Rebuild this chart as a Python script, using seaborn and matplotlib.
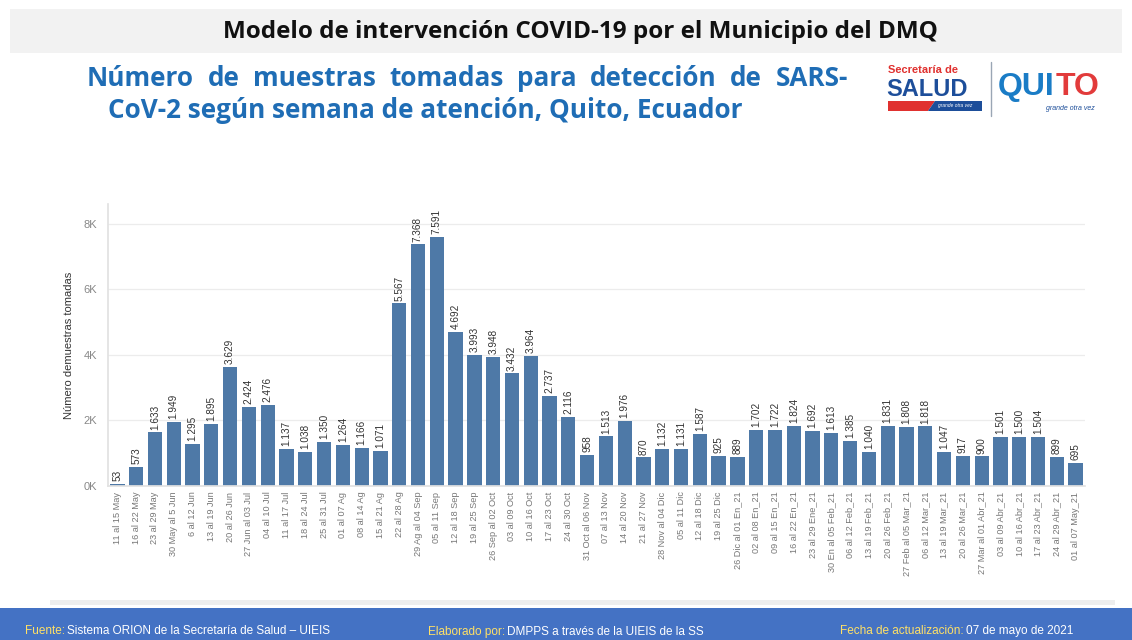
import matplotlib
matplotlib.use("Agg")
import matplotlib.pyplot as plt
import matplotlib.patches as mpatches
import seaborn as sns
import pandas as pd

weeks = [
    "11 al 15 May", "16 al 22 May", "23 al 29 May", "30 May al 5 Jun", "6 al 12 Jun",
    "13 al 19 Jun", "20 al 26 Jun", "27 Jun al 03 Jul", "04 al 10 Jul", "11 al 17 Jul",
    "18 al 24 Jul", "25 al 31 Jul", "01 al 07 Ag", "08 al 14 Ag", "15 al 21 Ag",
    "22 al 28 Ag", "29 Ag al 04 Sep", "05 al 11 Sep", "12 al 18 Sep", "19 al 25 Sep",
    "26 Sep al 02 Oct", "03 al 09 Oct", "10 al 16 Oct", "17 al 23 Oct", "24 al 30 Oct",
    "31 Oct al 06 Nov", "07 al 13 Nov", "14 al 20 Nov", "21 al 27 Nov", "28 Nov al 04 Dic",
    "05 al 11 Dic", "12 al 18 Dic", "19 al 25 Dic", "26 Dic al 01 En_21", "02 al 08 En_21",
    "09 al 15 En_21", "16 al 22 En_21", "23 al 29 Ene_21", "30 En al 05 Feb_21", "06 al 12 Feb_21",
    "13 al 19 Feb_21", "20 al 26 Feb_21", "27 Feb al 05 Mar_21", "06 al 12 Mar_21", "13 al 19 Mar_21",
    "20 al 26 Mar_21", "27 Mar al 01 Abr_21", "03 al 09 Abr_21", "10 al 16 Abr_21", "17 al 23 Abr_21",
    "24 al 29 Abr_21", "01 al 07 May_21",
]
samples = [
    53, 573, 1633, 1949, 1295, 1895, 3629, 2424, 2476, 1137,
    1038, 1350, 1264, 1166, 1071, 5567, 7368, 7591, 4692, 3993,
    3948, 3432, 3964, 2737, 2116, 958, 1513, 1976, 870, 1132,
    1131, 1587, 925, 889, 1702, 1722, 1824, 1692, 1613, 1385,
    1040, 1831, 1808, 1818, 1047, 917, 900, 1501, 1500, 1504,
    899, 695,
]
ytick_vals = [0, 2000, 4000, 6000, 8000]
ytick_labels = ["0K", "2K", "4K", "6K", "8K"]

title = "Modelo de intervención COVID-19 por el Municipio del DMQ"
subtitle1 = "Número de muestras tomadas para detección de SARS-"
subtitle2 = "CoV-2 según semana de atención, Quito, Ecuador"
ylabel = "Número demuestras tomadas"

sns.set_theme(style="white")
plt.rcParams["font.family"] = ["Liberation Sans", "DejaVu Sans"]

W, H = 1132, 640
fig = plt.figure(figsize=(W / 100, H / 100), dpi=100)
fig.patch.set_facecolor("white")
renderer = fig.canvas.get_renderer()


def fx(x):
    return x / W


def fy(y):
    return 1 - y / H


def rect(x0, y0, x1, y1, color, z=0):
    fig.patches.append(mpatches.Rectangle((fx(x0), fy(y1)), fx(x1) - fx(x0), fy(y0) - fy(y1),
                                          transform=fig.transFigure, facecolor=color,
                                          edgecolor="none", zorder=z))


# header band
rect(10, 9, 1122, 53, "#f2f2f2")
fig.text(fx(580), fy(32), title, ha="center", va="center", fontsize=17.5,
         fontweight="bold", color="#111111", family=["Open Sans", "DejaVu Sans"])

blue_title = "#1f6db5"
sub_kw = dict(fontsize=18.8, fontweight="bold", color=blue_title, family=["Open Sans", "DejaVu Sans"])

# justified first subtitle line between x=87 and x=848
words = subtitle1.split(" ")
wtexts = [fig.text(0, fy(79), w, ha="left", va="center", **sub_kw) for w in words]
widths = [t.get_window_extent(renderer).width for t in wtexts]
gap = (848 - 87 - sum(widths)) / (len(words) - 1)
xcur = 87
for t, wd in zip(wtexts, widths):
    t.set_x(fx(xcur))
    xcur += wd + gap

fig.text(fx(108), fy(111), subtitle2, ha="left", va="center", **sub_kw)

# logo approximation
fig.text(fx(888), fy(70), "Secretaría de", ha="left", va="center", fontsize=8,
         fontweight="bold", color="#e0312f")
fig.text(fx(886), fy(89), "SALUD", ha="left", va="center", fontsize=17,
         fontweight="bold", color="#1d4e9a")
fig.patches.append(mpatches.Polygon([(fx(888), fy(101)), (fx(935), fy(101)), (fx(928), fy(111)), (fx(888), fy(111))],
                                    closed=True, transform=fig.transFigure, facecolor="#e0312f", edgecolor="none"))
fig.patches.append(mpatches.Polygon([(fx(935), fy(101)), (fx(982), fy(101)), (fx(982), fy(111)), (fx(928), fy(111))],
                                    closed=True, transform=fig.transFigure, facecolor="#1d4e9a", edgecolor="none"))
fig.text(fx(955), fy(106), "grande otra vez", ha="center", va="center", fontsize=3.5,
         style="italic", color="white")
fig.lines.append(plt.Line2D([fx(991), fx(991)], [fy(62), fy(116)], transform=fig.transFigure,
                            color="#9aa6b5", linewidth=1))
fig.text(fx(998), fy(87), "QUI", ha="left", va="center", fontsize=23,
         fontweight="bold", color="#1a7cc6")
fig.text(fx(1056), fy(87), "TO", ha="left", va="center", fontsize=23,
         fontweight="bold", color="#e23b3b")
fig.text(fx(1070), fy(108), "grande otra vez", ha="center", va="center", fontsize=5,
         style="italic", color="#1d4e9a")

# chart axes
ax = fig.add_axes([fx(108), fy(486), fx(1085) - fx(108), fy(204) - fy(486)])
df = pd.DataFrame({"semana": weeks, "muestras": samples})
sns.barplot(data=df, x="semana", y="muestras", order=weeks, color="#4e79a7",
            saturation=1, width=0.76, ax=ax, edgecolor="none")

ax.set_ylim(0, 8600)
ax.set_xlim(-0.5, len(weeks) - 0.5)
ax.set_yticks(ytick_vals)
ax.set_yticklabels(ytick_labels, color="#888888", fontsize=8)
ax.yaxis.grid(True, color="#ececec", linewidth=0.9)
ax.set_axisbelow(True)
for s in ["top", "right"]:
    ax.spines[s].set_visible(False)
ax.spines["left"].set_color("#e2e2e2")
ax.spines["bottom"].set_color("#e2e2e2")
ax.tick_params(axis="y", length=0, pad=8)
ax.set_xticks(range(len(weeks)))
ax.set_xticklabels(weeks, rotation=90, fontsize=6.6, color="#777777")
ax.tick_params(axis="x", length=0, pad=4)
ax.set_xticks([i + 0.5 for i in range(len(weeks) - 1)], minor=True)
ax.tick_params(axis="x", which="minor", length=3, color="#dddddd", width=0.8)
ax.set_xlabel("")
ax.set_ylabel(ylabel, fontsize=8, color="#333333", labelpad=7)

value_labels = [f"{v:,}".replace(",", ".") for v in samples]
ax.bar_label(ax.containers[0], labels=value_labels, rotation=90, padding=2,
             fontsize=7.2, color="#333333")

# bottom frame line and footer
rect(50, 600, 1115, 605, "#eeeeee")
rect(0, 608, W, H, "#4472c4")

yellow = "#ffe066"
fs_foot = 8.5


def two_color(x, y, first, second):
    t = fig.text(fx(x), fy(y), first, ha="left", va="center", fontsize=fs_foot, color=yellow)
    bb = t.get_window_extent(renderer)
    fig.text(bb.x1 / W + 0.002, fy(y), second, ha="left", va="center", fontsize=fs_foot, color="white")


two_color(25, 631, "Fuente:", "Sistema ORION de la Secretaría de Salud – UIEIS")
two_color(428, 632, "Elaborado por:", "DMPPS a través de la UIEIS de la SS")
two_color(840, 631, "Fecha de actualización:", "07 de mayo de 2021")

fig.savefig("out.png", dpi=100)
